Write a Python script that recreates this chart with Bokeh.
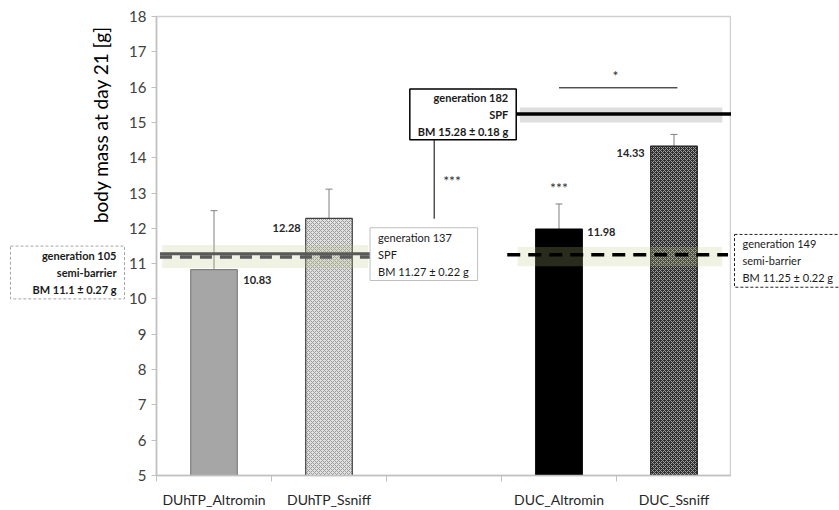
import math
from bokeh.plotting import figure
from bokeh.layouts import row
from bokeh.models import ColumnDataSource, FixedTicker, Label, Whisker, TeeHead, Range1d
from bokeh.core.properties import value
from bokeh.embed import file_html
from bokeh.resources import INLINE

# ---------------- data ----------------
categories = ["DUhTP_Altromin", "DUhTP_Ssniff", "", "DUC_Altromin", "DUC_Ssniff"]
body_mass = [10.83, 12.28, None, 11.98, 14.33]
body_mass_err = [1.67, 0.83, None, 0.71, 0.33]

ref_generation = [105, 137, 149, 182]
ref_housing = ["semi-barrier", "SPF", "semi-barrier", "SPF"]
ref_bm = [11.1, 11.27, 11.25, 15.28]
ref_bm_sd = [0.27, 0.22, 0.22, 0.18]
ref_line_level = [11.19, 11.28, 11.25, 15.24]
ref_band_low = [10.88, 10.88, 10.93, 15.00]
ref_band_high = [11.53, 11.53, 11.47, 15.42]

y_ticks = list(range(5, 19))
y_title = "body mass at day 21 [g]"

# ---------------- styles ----------------
FONT = "Lato"
LEFT_W, RIGHT_W, TOTAL_W, H = 126, 108, 839, 510
TOP, BOTTOM = 16, 31
bar_fill = ["#a6a6a6", "#e2e2e2", None, "#000000", "#2e2e2e"]
bar_line = ["#7f7f7f", "#404040", None, "#000000", "#202020"]
bar_hatch = ["blank", "diagonal_cross", None, "blank", "diagonal_cross"]
bar_hatch_color = ["#a6a6a6", "#9a9a9a", None, "#000000", "#a0a0a0"]
lbl_align = ["left", "right", None, "left", "right"]
lbl_xoff = [6, -5, None, 5, -6]
lbl_yoff = [10, 10, None, 3, 7]
BAR_W = 0.405

idx = [i for i, v in enumerate(body_mass) if v is not None]
bars = ColumnDataSource(dict(
    x=[i + 0.5 for i in idx],
    top=[body_mass[i] for i in idx],
    fill=[bar_fill[i] for i in idx],
    line=[bar_line[i] for i in idx],
    hatch=[bar_hatch[i] for i in idx],
    hatch_color=[bar_hatch_color[i] for i in idx],
))

p = figure(width=TOTAL_W - LEFT_W - RIGHT_W, height=H, x_range=Range1d(0, 5), y_range=Range1d(5, 18),
           output_backend="svg", toolbar_location=None,
           min_border_left=28, min_border_right=0, min_border_top=TOP, min_border_bottom=BOTTOM)
p.xgrid.visible = False
p.ygrid.visible = False
p.outline_line_color = "#d0d0d0"
p.outline_line_width = 1.5

# x axis: labels at category centres, tick marks at boundaries
tick_pos = [i + 0.5 for i, c in enumerate(categories) if c]
p.xaxis.ticker = FixedTicker(ticks=tick_pos, minor_ticks=list(range(len(categories) + 1)))
p.xaxis.major_label_overrides = {i + 0.5: c for i, c in enumerate(categories) if c}
p.xaxis.major_tick_line_color = None
p.xaxis.major_tick_out = 0
p.xaxis.major_tick_in = 0
p.xaxis.minor_tick_line_color = "#c0c0c0"
p.xaxis.minor_tick_out = 6
p.xaxis.minor_tick_in = 0
p.xaxis.major_label_standoff = 9
p.xaxis.axis_line_color = "#c0c0c0"
p.xaxis.axis_line_width = 1.5
p.xaxis.major_label_text_font = FONT
p.xaxis.major_label_text_font_size = "14px"
p.xaxis.major_label_text_color = "#262626"

p.yaxis.ticker = FixedTicker(ticks=y_ticks)
p.yaxis.minor_tick_line_color = None
p.yaxis.major_tick_out = 5
p.yaxis.major_tick_in = 0
p.yaxis.major_tick_line_color = "#c0c0c0"
p.yaxis.axis_line_color = "#c0c0c0"
p.yaxis.axis_line_width = 1.5
p.yaxis.major_label_standoff = 5
p.yaxis.major_label_text_font = FONT
p.yaxis.major_label_text_font_size = "15px"
p.yaxis.major_label_text_color = "#404040"

# error bars behind the dark DUC bars
behind = ColumnDataSource(dict(
    x=[i + 0.5 for i in idx if i >= 3],
    upper=[body_mass[i] + body_mass_err[i] for i in idx if i >= 3],
    lower=[body_mass[i] - body_mass_err[i] for i in idx if i >= 3],
))
p.add_layout(Whisker(source=behind, base="x", upper="upper", lower="lower",
                     line_color="#808080", line_width=1, level="underlay",
                     upper_head=TeeHead(size=7, line_color="#808080", line_width=1),
                     lower_head=TeeHead(size=7, line_color="#808080", line_width=1)))

p.vbar(x="x", top="top", bottom=5, width=BAR_W, source=bars,
       fill_color="fill", line_color="line", line_width=1.2,
       hatch_pattern="hatch", hatch_color="hatch_color", hatch_scale=4, hatch_weight=1)

front = ColumnDataSource(dict(
    x=[i + 0.5 for i in idx if i < 3],
    upper=[body_mass[i] + body_mass_err[i] for i in idx if i < 3],
    lower=[body_mass[i] - body_mass_err[i] for i in idx if i < 3],
))
p.add_layout(Whisker(source=front, base="x", upper="upper", lower="lower",
                     line_color="#808080", line_width=1,
                     upper_head=TeeHead(size=7, line_color="#808080", line_width=1),
                     lower_head=TeeHead(size=7, line_color="#808080", line_width=1)))

# value labels
labels = ColumnDataSource(dict(
    x=[i + 0.5 + (BAR_W / 2 if lbl_align[i] == "left" else -BAR_W / 2) for i in idx],
    y=[body_mass[i] for i in idx],
    text=[f"{body_mass[i]:.2f}" for i in idx],
    align=[lbl_align[i] for i in idx],
    xoff=[lbl_xoff[i] for i in idx],
    yoff=[lbl_yoff[i] for i in idx],
))
p.text(x="x", y="y", text="text", source=labels, text_align="align", text_baseline="middle",
       x_offset="xoff", y_offset="yoff", text_font=value(FONT), text_font_style="bold",
       text_font_size="11px", text_color="#262626")

# reference bands (x extents in category units)
band_x0 = [0.05, 0.05, 3.14, 3.16]
band_x1 = [1.84, 1.84, 4.92, 4.92]
band_col = ["#bac384", "#bac384", "#bac384", "#dedede"]
band_alpha = [0.22, 0.0, 0.22, 1.0]
for k in [3, 0, 2]:
    p.quad(left=band_x0[k], right=band_x1[k], bottom=ref_band_low[k], top=ref_band_high[k],
           fill_color=band_col[k], fill_alpha=band_alpha[k], line_color=None)

# reference lines
line_x0 = [0.03, 0.03, 3.05, 3.13]
line_x1 = [1.86, 1.88, 4.97, 5.0]
line_col = ["#5a5a5a", "#595959", "#000000", "#000000"]
line_dash = ["12 8", "solid", "13 8", "solid"]
line_w = [3.5, 3, 3.5, 3.5]
for k in [1, 0, 2, 3]:
    p.segment(x0=line_x0[k], x1=line_x1[k], y0=ref_line_level[k], y1=ref_line_level[k],
              line_color=line_col[k], line_width=line_w[k], line_dash=line_dash[k])

# significance markers
p.segment(x0=3.50, x1=4.53, y0=15.98, y1=15.98, line_color="#000000", line_width=1)
p.segment(x0=2.415, x1=2.415, y0=14.52, y1=12.27, line_color="#3a3a3a", line_width=1.3)
for (sx, sy, st) in [(3.99, 16.34, "*"), (2.57, 13.35, "***"), (3.5, 13.17, "***")]:
    p.add_layout(Label(x=sx, y=sy, text=st, text_align="center", text_baseline="middle",
                       text_font=FONT, text_font_size="14px", text_color="#303030"))


def box_text(k):
    return f"generation {ref_generation[k]}\n{ref_housing[k]}\nBM {ref_bm[k]} \u00b1 {ref_bm_sd[k]:.2f} g"


def box_label(k, x, y, align, color, dash, lw, style, pad):
    return Label(x=x, y=y, text=box_text(k), text_align=align, text_baseline="middle",
                 text_font=FONT, text_font_size="11px", text_font_style=style,
                 text_color="#1a1a1a", text_line_height=1.3,
                 border_line_color=color, border_line_dash=dash, border_line_width=lw,
                 background_fill_color="white", padding=pad)


p.add_layout(box_label(1, 1.857, 11.27, "left", "#bfbfbf", "solid", 1, "normal",
                       dict(left=8, right=9, top=3, bottom=3)))
p.add_layout(box_label(3, 3.128, 15.23, "right", "#000000", "solid", 1.5, "bold",
                       dict(left=8, right=8, top=2, bottom=2)))

# ---- left strip: y title and generation 105 box ----
left = figure(width=LEFT_W, height=H, x_range=Range1d(0, LEFT_W), y_range=p.y_range,
              output_backend="svg", toolbar_location=None, x_axis_type=None, y_axis_type=None,
              min_border=0, min_border_top=TOP, min_border_bottom=BOTTOM)
left.outline_line_color = None
left.grid.visible = False
left.add_layout(Label(x=100, y=14.94, text=y_title, angle=math.pi / 2,
                      text_align="center", text_baseline="middle", text_font=FONT,
                      text_font_size="19px", text_color="#000000"))
left.add_layout(box_label(0, 124, 10.75, "right", "#a6a6a6", "3 2", 1, "bold",
                          dict(left=22, right=8, top=3, bottom=3)))

# ---- right strip: generation 149 box ----
right = figure(width=RIGHT_W, height=H, x_range=Range1d(0, RIGHT_W), y_range=p.y_range,
               output_backend="svg", toolbar_location=None, x_axis_type=None, y_axis_type=None,
               min_border=0, min_border_top=TOP, min_border_bottom=BOTTOM)
right.outline_line_color = None
right.grid.visible = False
right.add_layout(box_label(2, 3, 11.08, "left", "#202020", "3 2", 1, "normal",
                           dict(left=8, right=12, top=3, bottom=3)))

layout = row(left, p, right, spacing=0)
open("out.html", "w").write(file_html(layout, INLINE))
